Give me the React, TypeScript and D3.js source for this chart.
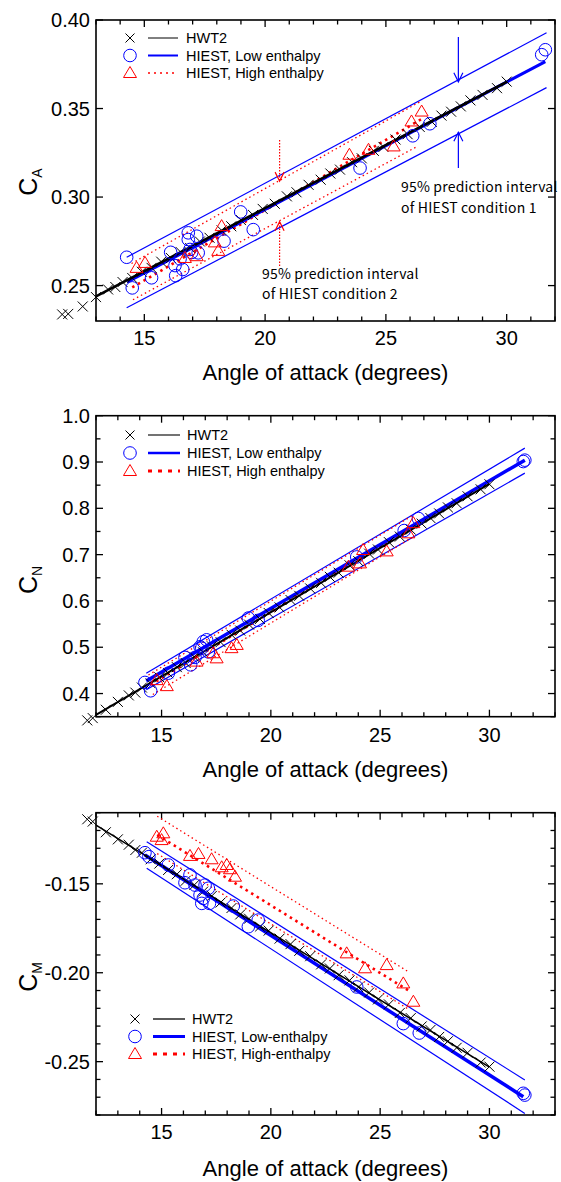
import React from "react";
import * as d3 from "d3";

type Pt = [number, number];

// HWT2 angle of attack (shared by the three coefficients)
const aoaHWT2 = [11.6, 11.85, 12.45, 13.0, 13.5, 13.8, 14.1, 14.5, 14.9, 15.3, 15.7, 16.1, 16.5, 16.9, 17.3, 17.7, 18.2, 18.6, 19.0, 19.5, 19.9, 20.4, 20.9, 21.3, 21.8, 22.3, 22.7, 23.1, 23.6, 24.0, 24.5, 24.9, 25.4, 25.9, 26.4, 26.9, 27.3, 27.7, 28.1, 28.5, 29.0, 29.6, 30.0];
const caHWT2 = [0.2337, 0.234, 0.2382, 0.2435, 0.2478, 0.2492, 0.252, 0.2543, 0.2578, 0.26, 0.2635, 0.2656, 0.269, 0.2712, 0.2749, 0.277, 0.2812, 0.2835, 0.287, 0.2899, 0.2933, 0.2962, 0.3004, 0.3027, 0.3069, 0.3098, 0.3133, 0.3155, 0.3197, 0.3219, 0.3261, 0.3283, 0.3325, 0.3355, 0.3396, 0.3425, 0.346, 0.3482, 0.3512, 0.3546, 0.3577, 0.3615, 0.3652];
const cnHWT2 = [0.342, 0.347, 0.365, 0.382, 0.396, 0.402, 0.413, 0.422, 0.435, 0.444, 0.457, 0.466, 0.479, 0.489, 0.502, 0.511, 0.527, 0.536, 0.549, 0.561, 0.574, 0.586, 0.602, 0.611, 0.627, 0.639, 0.652, 0.661, 0.677, 0.686, 0.702, 0.711, 0.727, 0.739, 0.754, 0.767, 0.779, 0.789, 0.802, 0.811, 0.826, 0.841, 0.852];
const cmHWT2 = [-0.1137, -0.115, -0.121, -0.125, -0.128, -0.131, -0.1325, -0.1362, -0.1386, -0.1422, -0.1446, -0.1483, -0.1506, -0.1544, -0.1568, -0.1605, -0.1636, -0.1672, -0.1696, -0.1741, -0.1763, -0.1808, -0.1839, -0.1877, -0.1907, -0.1953, -0.1976, -0.2014, -0.2043, -0.2082, -0.2111, -0.215, -0.2178, -0.2226, -0.2255, -0.2302, -0.2322, -0.2361, -0.2385, -0.2422, -0.245, -0.2505, -0.2528];

// HIEST low enthalpy (circles)
const caLow: Pt[] = [[14.27, 0.266], [14.5, 0.2487], [15.3, 0.2544], [16.09, 0.2688], [16.27, 0.2613], [16.3, 0.2556], [16.48, 0.2651], [16.59, 0.2591], [16.82, 0.2798], [16.82, 0.276], [16.89, 0.2704], [16.96, 0.2687], [17.17, 0.2779], [17.23, 0.2685], [18.3, 0.2751], [18.99, 0.2916], [19.51, 0.2816], [23.93, 0.3164], [26.11, 0.3346], [26.82, 0.3414], [31.45, 0.3804], [31.6, 0.3832]];
const cnLow: Pt[] = [[14.24, 0.424], [14.5, 0.406], [15.31, 0.444], [16.07, 0.478], [16.33, 0.462], [16.53, 0.478], [16.76, 0.501], [16.84, 0.498], [16.91, 0.512], [17.06, 0.516], [17.14, 0.49], [18.97, 0.563], [19.42, 0.558], [23.93, 0.695], [26.1, 0.752], [26.75, 0.778], [31.55, 0.901], [31.62, 0.904]];
const cmLow: Pt[] = [[14.24, -0.1325], [14.42, -0.1347], [15.31, -0.1394], [16.07, -0.1494], [16.3, -0.145], [16.53, -0.1507], [16.76, -0.1563], [16.84, -0.161], [16.91, -0.1582], [16.99, -0.1507], [17.14, -0.1525], [17.19, -0.161], [18.28, -0.1625], [18.97, -0.1741], [19.42, -0.1704], [23.93, -0.208], [26.06, -0.2286], [26.79, -0.2339], [31.55, -0.2678], [31.62, -0.2688]];

// HIEST high enthalpy (triangles)
const caHigh: Pt[] = [[14.68, 0.26], [15.03, 0.2628], [16.68, 0.2656], [17.17, 0.2666], [17.92, 0.2744], [18.2, 0.2836], [18.06, 0.2696], [23.49, 0.3239], [24.28, 0.3267], [25.32, 0.3286], [26.06, 0.3427], [26.48, 0.3483]];
const cnHigh: Pt[] = [[14.78, 0.429], [15.24, 0.416], [16.6, 0.469], [17.37, 0.487], [17.52, 0.476], [18.2, 0.498], [18.44, 0.505], [23.55, 0.674], [24.08, 0.681], [24.22, 0.71], [25.3, 0.707], [26.29, 0.746], [26.52, 0.768]];
const cmHigh: Pt[] = [[14.78, -0.1235], [15.0, -0.1254], [15.08, -0.1216], [16.3, -0.1343], [16.69, -0.1332], [17.29, -0.1362], [17.75, -0.1407], [17.98, -0.1394], [18.13, -0.1418], [18.36, -0.146], [23.47, -0.1891], [24.31, -0.1975], [25.3, -0.1957], [26.06, -0.206], [26.52, -0.2163]];

// fit lines and 95% prediction intervals (end points)
const caFitHWT2: Pt[] = [[13.0, 0.2439], [30.0, 0.365]];
const caFitLow: Pt[] = [[14.3, 0.252], [31.6, 0.3765]];
const caBandLowUp: Pt[] = [[14.27, 0.266], [31.65, 0.3928]];
const caBandLowDn: Pt[] = [[14.27, 0.2375], [31.65, 0.3618]];
const caFitHigh: Pt[] = [[14.5, 0.249], [26.5, 0.3442]];
const caBandHighUp: Pt[] = [[14.47, 0.2625], [26.5, 0.3545]];
const caBandHighDn: Pt[] = [[14.53, 0.242], [26.3, 0.3286]];

const cnFitHWT2: Pt[] = [[12.0, 0.354], [30.0, 0.853]];
const cnFitLow: Pt[] = [[14.3, 0.427], [31.62, 0.904]];
const cnBandLowUp: Pt[] = [[14.3, 0.444], [31.62, 0.93]];
const cnBandLowDn: Pt[] = [[14.3, 0.408], [31.62, 0.876]];
const cnFitHigh: Pt[] = [[14.5, 0.419], [26.5, 0.761]];
const cnBandHighUp: Pt[] = [[14.4, 0.44], [26.5, 0.785]];
const cnBandHighDn: Pt[] = [[14.6, 0.398], [26.5, 0.738]];

const cmFitHWT2: Pt[] = [[12.0, -0.117], [30.0, -0.2531]];
const cmFitLow: Pt[] = [[14.24, -0.1338], [31.55, -0.2697]];
const cmBandLowUp: Pt[] = [[14.32, -0.1263], [31.62, -0.2603]];
const cmBandLowDn: Pt[] = [[14.32, -0.1413], [31.62, -0.2791]];
const cmFitHigh: Pt[] = [[14.8, -0.1225], [26.3, -0.21]];
const cmBandHighUp: Pt[] = [[14.8, -0.112], [26.3, -0.1995]];
const cmBandHighDn: Pt[] = [[14.8, -0.133], [26.3, -0.2205]];

const legendNames1 = ["HWT2", "HIEST, Low enthalpy", "HIEST, High enthalpy"];
const legendNames3 = ["HWT2", "HIEST, Low-enthalpy", "HIEST, High-enthalpy"];
const xTicks = [15, 20, 25, 30];

const FONT = "'Liberation Sans', Arial, sans-serif";
const NOTE_FONT = "'Noto Sans CJK JP', 'DejaVu Sans', sans-serif";
const BLUE = "#0000ff";
const RED = "#ff0000";
const LEFT = 96;
const RIGHT = 555;

const crossPath = (s: number) => `M${-s},${-s}L${s},${s}M${-s},${s}L${s},${-s}`;
const triPath = "M0,-6.5L6.5,4.5L-6.5,4.5Z";

function Arrow({ x, y0, y1, color, dash }: { x: number; y0: number; y1: number; color: string; dash?: string }) {
  const dir = y1 > y0 ? 1 : -1;
  return (
    <g stroke={color} strokeWidth={1.2} fill="none">
      <line x1={x} x2={x} y1={y0} y2={y1} strokeDasharray={dash} />
      <path d={`M${x - 4.5},${y1 - dir * 9}L${x},${y1}L${x + 4.5},${y1 - dir * 9}`} />
    </g>
  );
}

function Panel(p: any) {
  const x = d3.scaleLinear().domain(p.xDomain).range([LEFT, RIGHT]);
  const y = d3.scaleLinear().domain(p.yDomain).range([p.bottom, p.top]);
  const line = d3.line<Pt>().x((d) => x(d[0])).y((d) => y(d[1]));
  const fmt = (v: number) => d3.format(p.yFmt)(v).replace("\u2212", "-");
  const xMinor = d3.range(Math.ceil(p.xDomain[0]), p.xDomain[1] + 0.001, 1).filter((v: number) => !xTicks.includes(v));
  const near = (a: number, arr: number[]) => arr.some((b) => Math.abs(a - b) < 1e-6);
  const yMinor = (p.yMinor as number[]).filter((v) => !near(v, p.yMajor));
  const cx = (LEFT + RIGHT) / 2;
  const L = p.legend;
  const rowY = (i: number) => L.y + i * L.dy;

  return (
    <g>
      {/* ticks, inward on all four sides */}
      <g stroke="#000" strokeWidth={1.3}>
        {xTicks.map((v) => (
          <g key={"xM" + v}>
            <line x1={x(v)} x2={x(v)} y1={p.bottom} y2={p.bottom - 7} />
            <line x1={x(v)} x2={x(v)} y1={p.top} y2={p.top + 7} />
          </g>
        ))}
        {xMinor.map((v: number) => (
          <g key={"xm" + v}>
            <line x1={x(v)} x2={x(v)} y1={p.bottom} y2={p.bottom - 4.5} />
            <line x1={x(v)} x2={x(v)} y1={p.top} y2={p.top + 4.5} />
          </g>
        ))}
        {(p.yMajor as number[]).map((v) => (
          <g key={"yM" + v}>
            <line x1={LEFT} x2={LEFT + 7} y1={y(v)} y2={y(v)} />
            <line x1={RIGHT} x2={RIGHT - 7} y1={y(v)} y2={y(v)} />
          </g>
        ))}
        {yMinor.map((v) => (
          <g key={"ym" + v}>
            <line x1={LEFT} x2={LEFT + 4.5} y1={y(v)} y2={y(v)} />
            <line x1={RIGHT} x2={RIGHT - 4.5} y1={y(v)} y2={y(v)} />
          </g>
        ))}
      </g>
      <rect x={LEFT} y={p.top} width={RIGHT - LEFT} height={p.bottom - p.top} fill="none" stroke="#000" strokeWidth={1.6} />

      {/* tick labels */}
      <g fontFamily={FONT} fontSize={20} fill="#000">
        {xTicks.map((v) => (
          <text key={"xl" + v} x={x(v)} y={p.tickBase} textAnchor="middle">{v}</text>
        ))}
        {(p.yMajor as number[]).map((v) => (
          <text key={"yl" + v} x={90} y={y(v) + 7} textAnchor="end">{fmt(v)}</text>
        ))}
      </g>
      <text x={cx} y={p.titleBase} textAnchor="middle" fontFamily={FONT} fontSize={22}>Angle of attack (degrees)</text>
      <text transform={`translate(37,${p.labelY}) rotate(-90)`} textAnchor="middle" fontFamily={FONT} fontSize={25}>
        C<tspan fontSize={14} dy={5}>{p.sub}</tspan>
      </text>

      {/* prediction intervals and fits */}
      <g fill="none">
        <path d={line(p.bandLowUp)!} stroke={BLUE} strokeWidth={1.2} />
        <path d={line(p.bandLowDn)!} stroke={BLUE} strokeWidth={1.2} />
        <path d={line(p.bandHighUp)!} stroke={RED} strokeWidth={1.3} strokeDasharray="1.5,3" />
        <path d={line(p.bandHighDn)!} stroke={RED} strokeWidth={1.3} strokeDasharray="1.5,3" />
        <path d={line(p.fitHigh)!} stroke={RED} strokeWidth={2.6} strokeDasharray="2.5,4" />
        <path d={line(p.fitLow)!} stroke={BLUE} strokeWidth={p.lowWidth} />
        <path d={line(p.fitHWT2)!} stroke="#000" strokeWidth={p.hwtWidth} />
      </g>

      {/* markers */}
      <g stroke="#000" strokeWidth={1} fill="none">
        {aoaHWT2.map((a, i) => (
          <path key={"h" + i} d={crossPath(5)} transform={`translate(${x(a)},${y(p.hwt2[i])})`} />
        ))}
      </g>
      <g stroke={BLUE} strokeWidth={1} fill="none">
        {(p.low as Pt[]).map((d, i) => (
          <circle key={"c" + i} cx={x(d[0])} cy={y(d[1])} r={6.3} />
        ))}
      </g>
      <g stroke={RED} strokeWidth={1} fill="none">
        {(p.high as Pt[]).map((d, i) => (
          <path key={"t" + i} d={triPath} transform={`translate(${x(d[0])},${y(d[1])})`} />
        ))}
      </g>

      {/* legend */}
      <g fontFamily={FONT} fontSize={14.5} fill="#000">
        <path d={crossPath(4.5)} transform={`translate(${L.x},${rowY(0)})`} stroke="#000" strokeWidth={1} fill="none" />
        <circle cx={L.x} cy={rowY(1)} r={6.3} stroke={BLUE} fill="none" strokeWidth={1} />
        <path d={triPath} transform={`translate(${L.x},${rowY(2)})`} stroke={RED} fill="none" strokeWidth={1} />
        <line x1={L.x0} x2={L.x1} y1={rowY(0)} y2={rowY(0)} stroke={L.hwtColor} strokeWidth={L.hwtWidth} />
        <line x1={L.x0} x2={L.x1} y1={rowY(1)} y2={rowY(1)} stroke={BLUE} strokeWidth={L.lowWidth} />
        <line x1={L.x0} x2={L.x1} y1={rowY(2)} y2={rowY(2)} stroke={RED} strokeWidth={L.highWidth} strokeDasharray={L.highDash} />
        {(L.names as string[]).map((n, i) => (
          <text key={n} x={L.tx} y={rowY(i) + 5}>{n}</text>
        ))}
      </g>
      {p.children}
    </g>
  );
}

export default function App() {
  const y1 = d3.scaleLinear().domain([0.23, 0.4]).range([321, 20]);
  const x1 = d3.scaleLinear().domain([13, 32]).range([LEFT, RIGHT]);
  return (
    <svg width={561} height={1182} viewBox="0 0 561 1182" style={{ position: "absolute", left: 0, top: 0, display: "block", background: "#fff" }}>
      <Panel
        top={20} bottom={321} xDomain={[13, 32]} yDomain={[0.23, 0.4]}
        yMajor={[0.25, 0.3, 0.35, 0.4]} yMinor={[]} yFmt=".2f"
        sub="A" labelY={182} tickBase={345} titleBase={380}
        hwt2={caHWT2} low={caLow} high={caHigh}
        fitHWT2={caFitHWT2} fitLow={caFitLow} bandLowUp={caBandLowUp} bandLowDn={caBandLowDn}
        fitHigh={caFitHigh} bandHighUp={caBandHighUp} bandHighDn={caBandHighDn}
        hwtWidth={2.6} lowWidth={3}
        legend={{ x: 130, y: 38, dy: 17.5, x0: 148, x1: 178, tx: 186, names: legendNames1, hwtColor: "#000", hwtWidth: 1, lowWidth: 2, highWidth: 1.5, highDash: "2,4" }}
      >
        <Arrow x={x1(28)} y0={37} y1={y1(0.3651)} color={BLUE} />
        <Arrow x={x1(28)} y0={168} y1={y1(0.3366)} color={BLUE} />
        <Arrow x={x1(20.6)} y0={140} y1={y1(0.309)} color={RED} dash="1.5,1.5" />
        <Arrow x={x1(20.6)} y0={266} y1={y1(0.2861)} color={RED} dash="1.5,1.5" />
        <g fontFamily={NOTE_FONT} fontSize={14} fill="#000" letterSpacing={0.2}>
          <text x={401} y={192}>95% prediction interval</text>
          <text x={401} y={213}>of HIEST condition 1</text>
          <text x={262} y={279}>95% prediction interval</text>
          <text x={262} y={299}>of HIEST condition 2</text>
        </g>
      </Panel>
      <Panel
        top={415.7} bottom={716.7} xDomain={[12, 33]} yDomain={[0.35, 1.0]}
        yMajor={[0.4, 0.5, 0.6, 0.7, 0.8, 0.9, 1.0]} yMinor={d3.range(0.35, 1.001, 0.05)} yFmt=".1f"
        sub="N" labelY={580} tickBase={742} titleBase={777}
        hwt2={cnHWT2} low={cnLow} high={cnHigh}
        fitHWT2={cnFitHWT2} fitLow={cnFitLow} bandLowUp={cnBandLowUp} bandLowDn={cnBandLowDn}
        fitHigh={cnFitHigh} bandHighUp={cnBandHighUp} bandHighDn={cnBandHighDn}
        hwtWidth={2} lowWidth={3.5}
        legend={{ x: 130, y: 435, dy: 18, x0: 148, x1: 180, tx: 187, names: legendNames1, hwtColor: "#444", hwtWidth: 1.5, lowWidth: 2.5, highWidth: 3, highDash: "4,6" }}
      />
      <Panel
        top={812.7} bottom={1115} xDomain={[12, 33]} yDomain={[-0.28, -0.11]}
        yMajor={[-0.25, -0.2, -0.15]} yMinor={d3.range(-0.28, -0.1099, 0.01)} yFmt=".2f"
        sub="M" labelY={977} tickBase={1139} titleBase={1176}
        hwt2={cmHWT2} low={cmLow} high={cmHigh}
        fitHWT2={cmFitHWT2} fitLow={cmFitLow} bandLowUp={cmBandLowUp} bandLowDn={cmBandLowDn}
        fitHigh={cmFitHigh} bandHighUp={cmBandHighUp} bandHighDn={cmBandHighDn}
        hwtWidth={1.6} lowWidth={3.5}
        legend={{ x: 135, y: 1019, dy: 17.5, x0: 153, x1: 185, tx: 192, names: legendNames3, hwtColor: "#000", hwtWidth: 1.3, lowWidth: 3, highWidth: 3, highDash: "4,6" }}
      />
    </svg>
  );
}
